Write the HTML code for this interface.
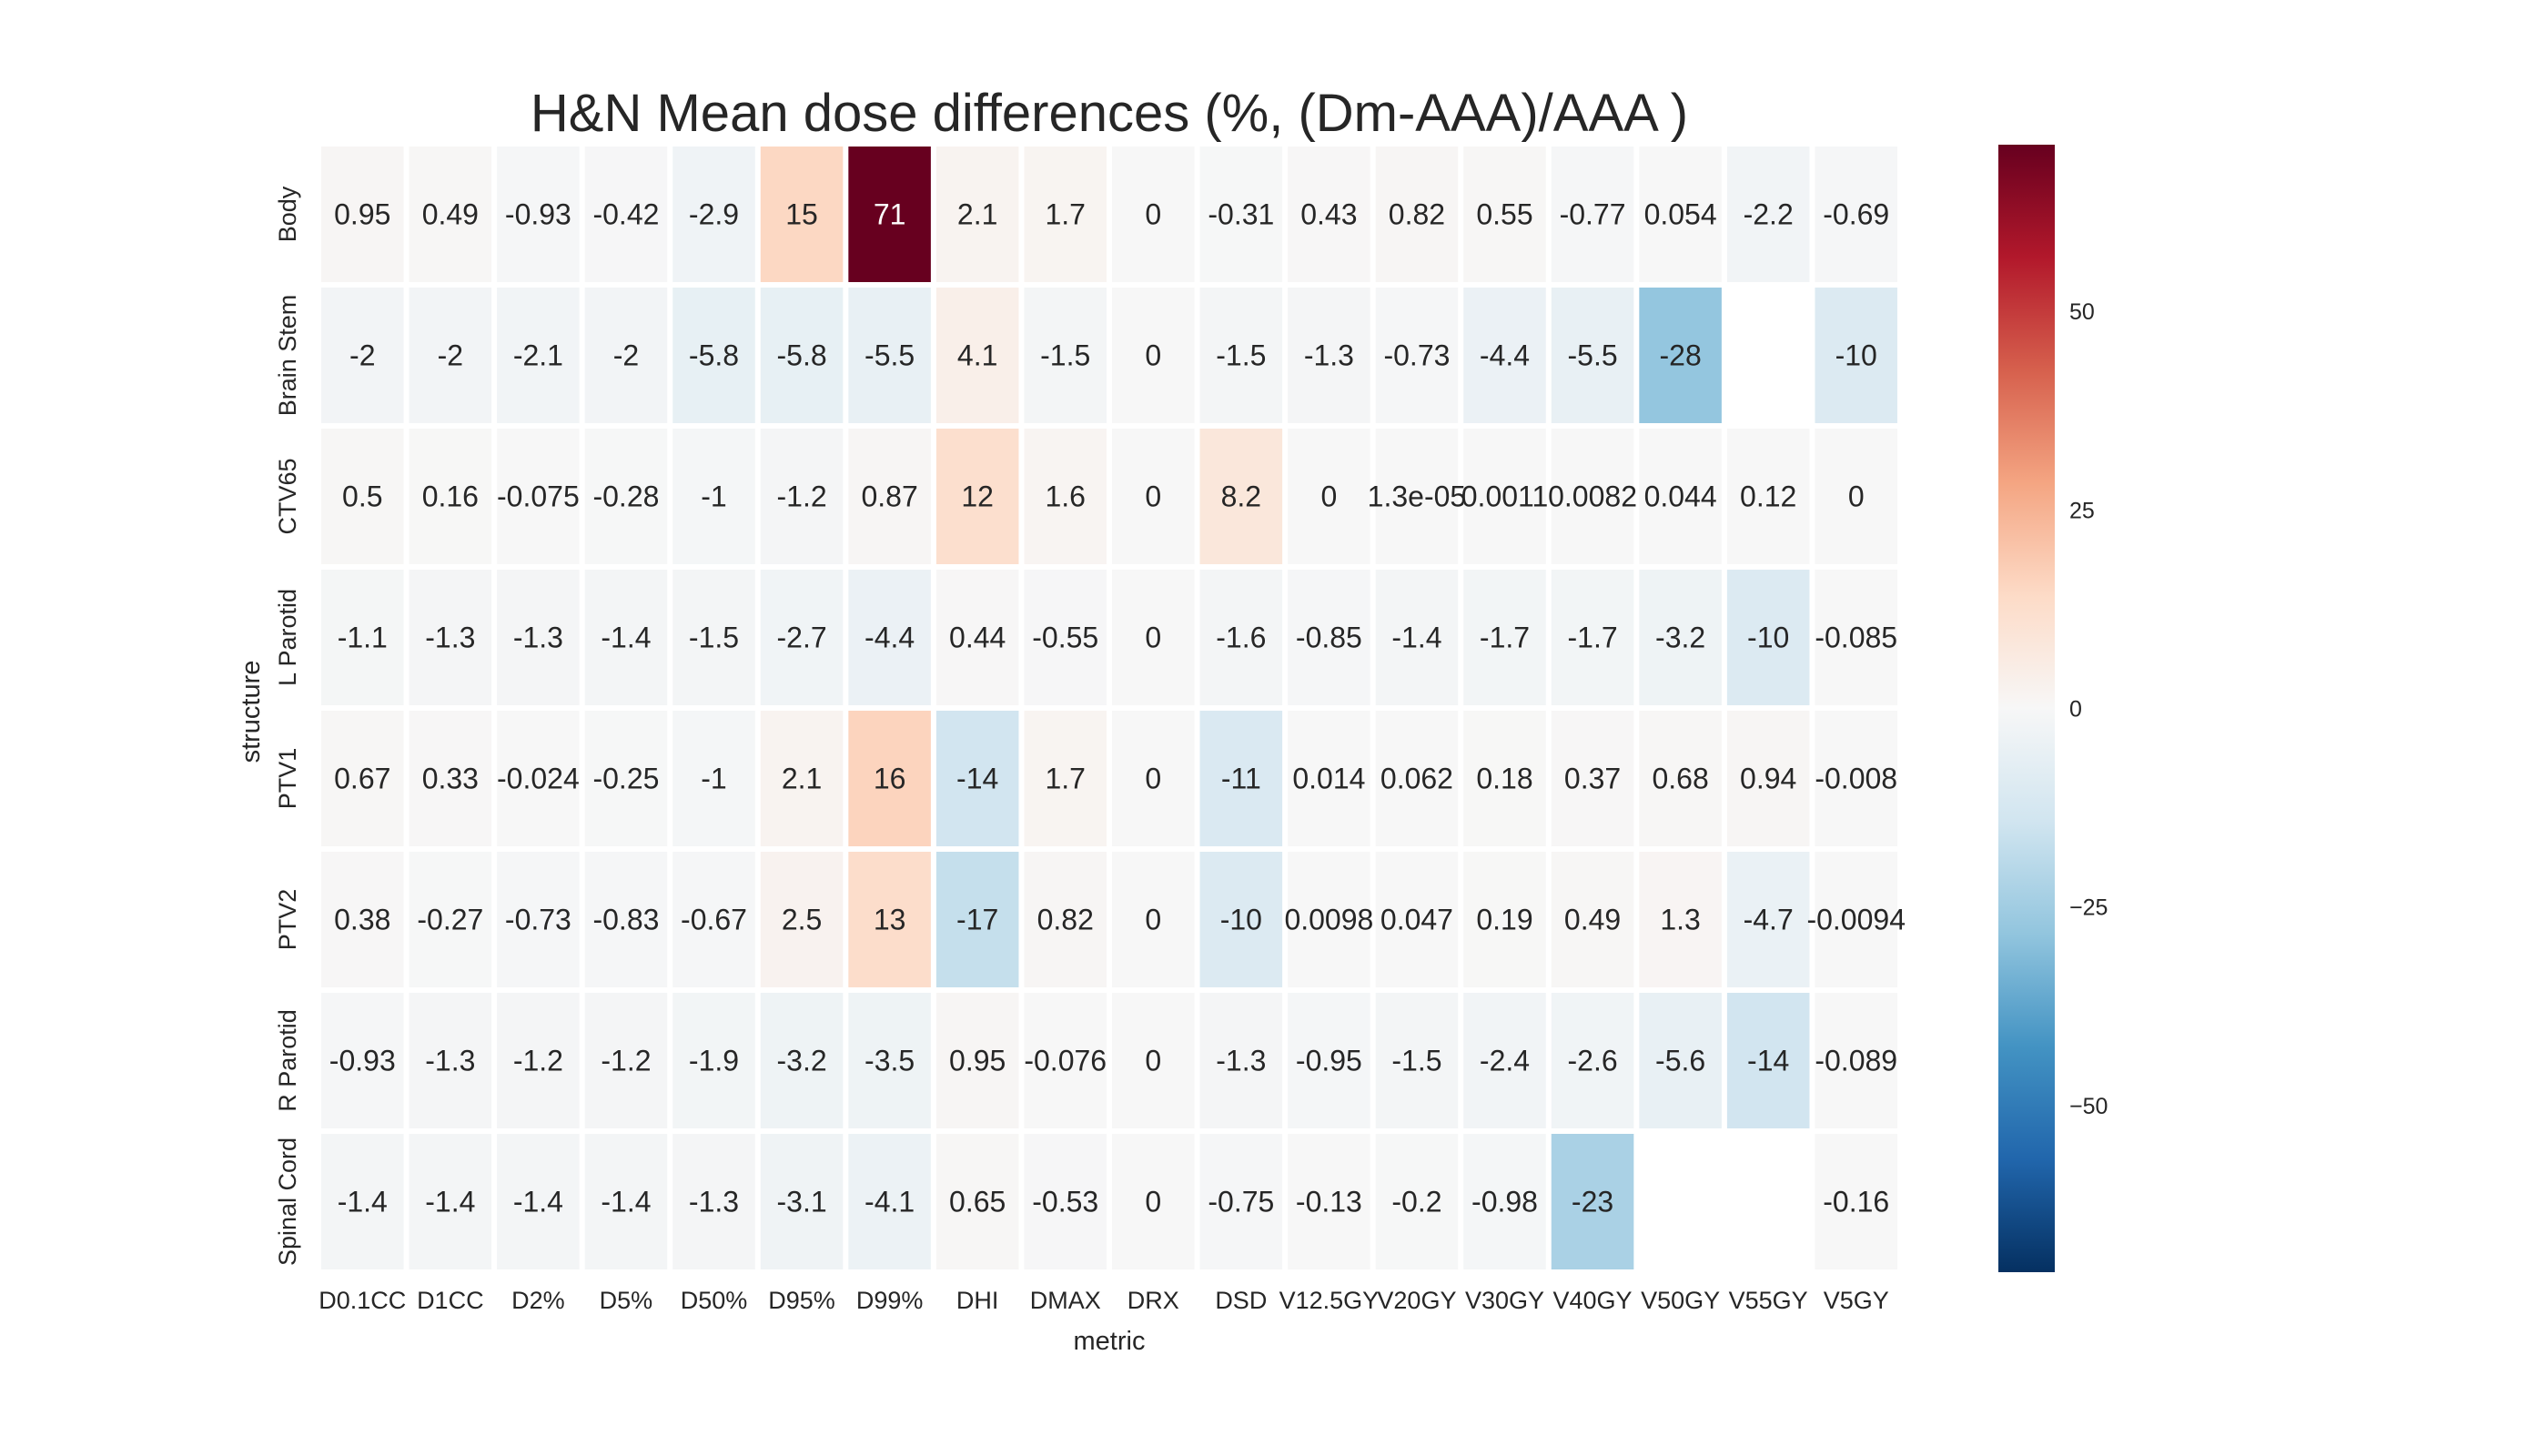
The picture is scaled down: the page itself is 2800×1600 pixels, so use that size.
<!DOCTYPE html>
<html><head><meta charset="utf-8">
<style>
html,body{margin:0;padding:0;background:#fff;}
svg{display:block;}
text{font-family:"Liberation Sans",Arial,sans-serif;fill:#262626;}
</style></head>
<body>
<svg id="chart" width="2800" height="1600" viewBox="0 0 2800 1600" xmlns="http://www.w3.org/2000/svg">
<defs>
<linearGradient id="cbgrad" x1="0" y1="1" x2="0" y2="0">
<stop offset="0" stop-color="#053061"/><stop offset="0.1" stop-color="#2166ac"/><stop offset="0.2" stop-color="#4393c3"/><stop offset="0.3" stop-color="#92c5de"/><stop offset="0.4" stop-color="#d1e5f0"/><stop offset="0.5" stop-color="#f7f7f7"/><stop offset="0.6" stop-color="#fddbc7"/><stop offset="0.7" stop-color="#f4a582"/><stop offset="0.8" stop-color="#d6604d"/><stop offset="0.9" stop-color="#b2182b"/><stop offset="1" stop-color="#67001f"/>
</linearGradient>
</defs>
<text x="1219" y="144" font-size="58" text-anchor="middle">H&amp;N Mean dose differences (%, (Dm-AAA)/AAA )</text>
<g id="cells"></g>
<g id="xticks"></g>
<g id="yticks"></g>
<text x="1219" y="1483" font-size="29" text-anchor="middle">metric</text>
<text x="285" y="782" font-size="29" text-anchor="middle" transform="rotate(-90 285 782)">structure</text>
<rect x="2196" y="159" width="62" height="1239" fill="url(#cbgrad)"/>
<g id="cbticks"></g>
</svg>
<script>
const structures = ["Body","Brain Stem","CTV65","L Parotid","PTV1","PTV2","R Parotid","Spinal Cord"];
const metrics = ["D0.1CC","D1CC","D2%","D5%","D50%","D95%","D99%","DHI","DMAX","DRX","DSD","V12.5GY","V20GY","V30GY","V40GY","V50GY","V55GY","V5GY"];
const rowBody = [0.95,0.49,-0.93,-0.42,-2.9,15,71,2.1,1.7,0,-0.31,0.43,0.82,0.55,-0.77,0.054,-2.2,-0.69];
const rowBrainStem = [-2,-2,-2.1,-2,-5.8,-5.8,-5.5,4.1,-1.5,0,-1.5,-1.3,-0.73,-4.4,-5.5,-28,null,-10];
const rowCTV65 = [0.5,0.16,-0.075,-0.28,-1,-1.2,0.87,12,1.6,0,8.2,0,1.3e-05,0.0011,0.0082,0.044,0.12,0];
const rowLParotid = [-1.1,-1.3,-1.3,-1.4,-1.5,-2.7,-4.4,0.44,-0.55,0,-1.6,-0.85,-1.4,-1.7,-1.7,-3.2,-10,-0.085];
const rowPTV1 = [0.67,0.33,-0.024,-0.25,-1,2.1,16,-14,1.7,0,-11,0.014,0.062,0.18,0.37,0.68,0.94,-0.008];
const rowPTV2 = [0.38,-0.27,-0.73,-0.83,-0.67,2.5,13,-17,0.82,0,-10,0.0098,0.047,0.19,0.49,1.3,-4.7,-0.0094];
const rowRParotid = [-0.93,-1.3,-1.2,-1.2,-1.9,-3.2,-3.5,0.95,-0.076,0,-1.3,-0.95,-1.5,-2.4,-2.6,-5.6,-14,-0.089];
const rowSpinalCord = [-1.4,-1.4,-1.4,-1.4,-1.3,-3.1,-4.1,0.65,-0.53,0,-0.75,-0.13,-0.2,-0.98,-23,null,null,-0.16];
const values = [rowBody,rowBrainStem,rowCTV65,rowLParotid,rowPTV1,rowPTV2,rowRParotid,rowSpinalCord];
const cbTicks = [50,25,0,-25,-50];
const cbTickLabels = ["50","25","0","\u221225","\u221250"];
const vmin = -71, vmax = 71;

const NS = "http://www.w3.org/2000/svg";
const gx0 = 350, gx1 = 2088, gy0 = 158, gy1 = 1398, gap = 6;
const cw = (gx1 - gx0) / metrics.length, ch = (gy1 - gy0) / structures.length;
function xPos(i){ return gx0 + i * cw; }
function yPos(j){ return gy0 + j * ch; }
const cbTop = 159, cbBot = 1398;
function cbY(v){ return cbBot - (v - vmin) / (vmax - vmin) * (cbBot - cbTop); }

const stops = ["#053061","#2166ac","#4393c3","#92c5de","#d1e5f0","#f7f7f7","#fddbc7","#f4a582","#d6604d","#b2182b","#67001f"].map(h=>[parseInt(h.slice(1,3),16),parseInt(h.slice(3,5),16),parseInt(h.slice(5,7),16)]);
function color(v){
  let t = (v - vmin) / (vmax - vmin); t = Math.max(0, Math.min(1, t));
  const p = t * 10, i = Math.min(9, Math.floor(p)), f = p - i;
  const a = stops[i], b = stops[i+1];
  return [0,1,2].map(k => Math.round(a[k] + (b[k]-a[k]) * f));
}
function fmt(v){
  if (v === 0) return "0";
  if (Math.abs(v) < 1e-4){
    let s = v.toExponential(1);
    return s.replace(/e([+-])(\d)$/, "e$10$2");
  }
  return String(parseFloat(v.toPrecision(2)));
}
function lum(c){
  const l = c.map(x => { x/=255; return x <= 0.03928 ? x/12.92 : Math.pow((x+0.055)/1.055, 2.4); });
  return 0.2126*l[0] + 0.7152*l[1] + 0.0722*l[2];
}

const cells = document.getElementById("cells");
values.forEach((row, j) => {
  row.forEach((v, i) => {
    if (v === null) return;
    const c = color(v);
    const r = document.createElementNS(NS, "rect");
    r.setAttribute("x", xPos(i) + gap/2);
    r.setAttribute("y", yPos(j) + gap/2);
    r.setAttribute("width", cw - gap);
    r.setAttribute("height", ch - gap);
    r.setAttribute("fill", "rgb(" + c.join(",") + ")");
    
    
    cells.appendChild(r);
    const t = document.createElementNS(NS, "text");
    t.setAttribute("x", xPos(i) + cw/2);
    t.setAttribute("y", yPos(j) + ch/2 + 11);
    t.setAttribute("font-size", "32");
    t.setAttribute("text-anchor", "middle");
    t.style.fill = lum(c) > 0.408 ? "#262626" : "#ffffff";
    t.textContent = fmt(v);
    
    
    cells.appendChild(t);
  });
});

const xt = document.getElementById("xticks");
metrics.forEach((m, i) => {
  const t = document.createElementNS(NS, "text");
  t.setAttribute("x", xPos(i) + cw/2);
  t.setAttribute("y", 1438);
  t.setAttribute("font-size", "27");
  t.setAttribute("text-anchor", "middle");
  t.textContent = m;
  
  
  xt.appendChild(t);
});
const yt = document.getElementById("yticks");
structures.forEach((s, j) => {
  const t = document.createElementNS(NS, "text");
  const cx = 325, cy = yPos(j) + ch/2;
  t.setAttribute("x", cx);
  t.setAttribute("y", cy);
  t.setAttribute("font-size", "27");
  t.setAttribute("text-anchor", "middle");
  t.setAttribute("transform", "rotate(-90 " + cx + " " + cy + ")");
  t.textContent = s;
  
  
  yt.appendChild(t);
});
const cbt = document.getElementById("cbticks");
cbTicks.forEach((v, k) => {
  const t = document.createElementNS(NS, "text");
  t.setAttribute("x", 2274);
  t.setAttribute("y", cbY(v) + 9);
  t.setAttribute("font-size", "25");
  t.setAttribute("font-family", "DejaVu Sans, sans-serif");
  t.textContent = cbTickLabels[k];
  
  
  cbt.appendChild(t);
});
</script>
</body></html>
